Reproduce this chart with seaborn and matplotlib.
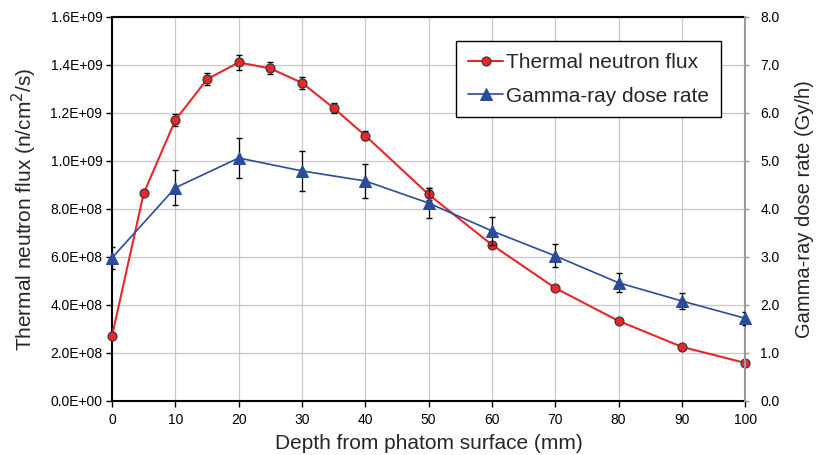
import matplotlib
matplotlib.use("Agg")
import matplotlib.pyplot as plt
import numpy as np
import pandas as pd
import seaborn as sns

# Data
depth_neutron = [0, 5, 10, 15, 20, 25, 30, 35, 40, 50, 60, 70, 80, 90, 100]
neutron_flux = [2.71e8, 8.65e8, 1.17e9, 1.34e9, 1.41e9, 1.385e9, 1.325e9, 1.22e9,
                1.105e9, 8.6e8, 6.5e8, 4.7e8, 3.33e8, 2.25e8, 1.58e8]
neutron_err = [0.005e9, 0.01e9, 0.025e9, 0.025e9, 0.03e9, 0.025e9, 0.025e9, 0.02e9,
               0.02e9, 0.025e9, 0.008e9, 0.006e9, 0.005e9, 0.004e9, 0.003e9]

depth_gamma = [0, 10, 20, 30, 40, 50, 60, 70, 80, 90, 100]
gamma_dose = [2.98, 4.44, 5.06, 4.79, 4.58, 4.12, 3.54, 3.02, 2.46, 2.08, 1.72]
gamma_err = [0.23, 0.36, 0.42, 0.42, 0.36, 0.32, 0.3, 0.24, 0.2, 0.17, 0.13]

flux_ticks = np.arange(0, 1.61e9, 2e8)
flux_labels = ["0.0E+00", "2.0E+08", "4.0E+08", "6.0E+08", "8.0E+08",
               "1.0E+09", "1.2E+09", "1.4E+09", "1.6E+09"]
dose_ticks = np.arange(0, 8.1, 1)

sns.set_theme(style="whitegrid")
plt.rcParams['font.family'] = ['Liberation Sans', 'DejaVu Sans']

neutron_df = pd.DataFrame({"depth": depth_neutron, "flux": neutron_flux})
gamma_df = pd.DataFrame({"depth": depth_gamma, "dose": gamma_dose})

fig = plt.figure(figsize=(8.18, 4.55), dpi=100)
ax = fig.add_axes([0.137, 0.119, 0.774, 0.844])
ax2 = ax.twinx()

red = "#e8272a"
blue = "#2b4c9b"

ax.errorbar(depth_neutron, neutron_flux, yerr=neutron_err, fmt="none",
            ecolor="black", elinewidth=0.9, capsize=2.5, zorder=3)
sns.lineplot(data=neutron_df, x="depth", y="flux", ax=ax, color=red, lw=1.5,
             marker="o", markersize=6.5, markerfacecolor=red,
             markeredgecolor="#333333", markeredgewidth=0.8, zorder=4,
             label="Thermal neutron flux", legend=False, clip_on=False)

ax2.errorbar(depth_gamma, gamma_dose, yerr=gamma_err, fmt="none",
             ecolor="black", elinewidth=0.9, capsize=2.5, zorder=3)
sns.lineplot(data=gamma_df, x="depth", y="dose", ax=ax2, color=blue, lw=1.2,
             marker="^", markersize=8, markerfacecolor=blue,
             markeredgecolor=blue, zorder=4,
             label="Gamma-ray dose rate", legend=False, clip_on=False)

ax.set_xlim(0, 100)
ax.set_ylim(0, 1.6e9)
ax2.set_ylim(0, 8)
ax.set_xticks(np.arange(0, 101, 10))
ax.set_yticks(flux_ticks)
ax.set_yticklabels(flux_labels)
ax2.set_yticks(dose_ticks)
ax2.set_yticklabels([f"{v:.1f}" for v in dose_ticks])

ax.grid(True, color="#c8c8c8", lw=0.9)
ax2.grid(False)
ax.set_facecolor("white")

for side in ["left", "bottom", "top"]:
    ax.spines[side].set_color("black")
    ax.spines[side].set_linewidth(1.5)
ax.spines["right"].set_color("#999999")
for side in ["left", "bottom", "top"]:
    ax2.spines[side].set_visible(False)
ax2.spines["right"].set_color("#999999")
ax2.spines["right"].set_linewidth(1.5)

ax.tick_params(axis="both", labelsize=10, colors="black", length=4, direction="out")
ax.tick_params(axis="y", left=True, width=1, pad=3)
ax.tick_params(axis="x", bottom=True, width=1, pad=5)
ax2.tick_params(axis="y", labelsize=10, length=3, right=True, width=1,
                color="#999999", labelcolor="black", pad=8)

ax.set_xlabel("Depth from phatom surface (mm)", fontsize=15, labelpad=5)
ax.set_ylabel("Thermal neutron flux (n/cm$^2$/s)", fontsize=15, labelpad=8)
ax2.set_ylabel("Gamma-ray dose rate (Gy/h)", fontsize=14.5, labelpad=11)

h1, l1 = ax.get_legend_handles_labels()
h2, l2 = ax2.get_legend_handles_labels()
leg = ax2.legend(h1 + h2, l1 + l2, loc="upper right", bbox_to_anchor=(0.978, 0.963),
                 fontsize=15, frameon=True, fancybox=False, framealpha=1,
                 edgecolor="black", handlelength=1.7, handletextpad=0.15,
                 labelspacing=0.7, borderpad=0.55)
leg.get_frame().set_linewidth(1.0)

fig.savefig("out.png", dpi=100)
